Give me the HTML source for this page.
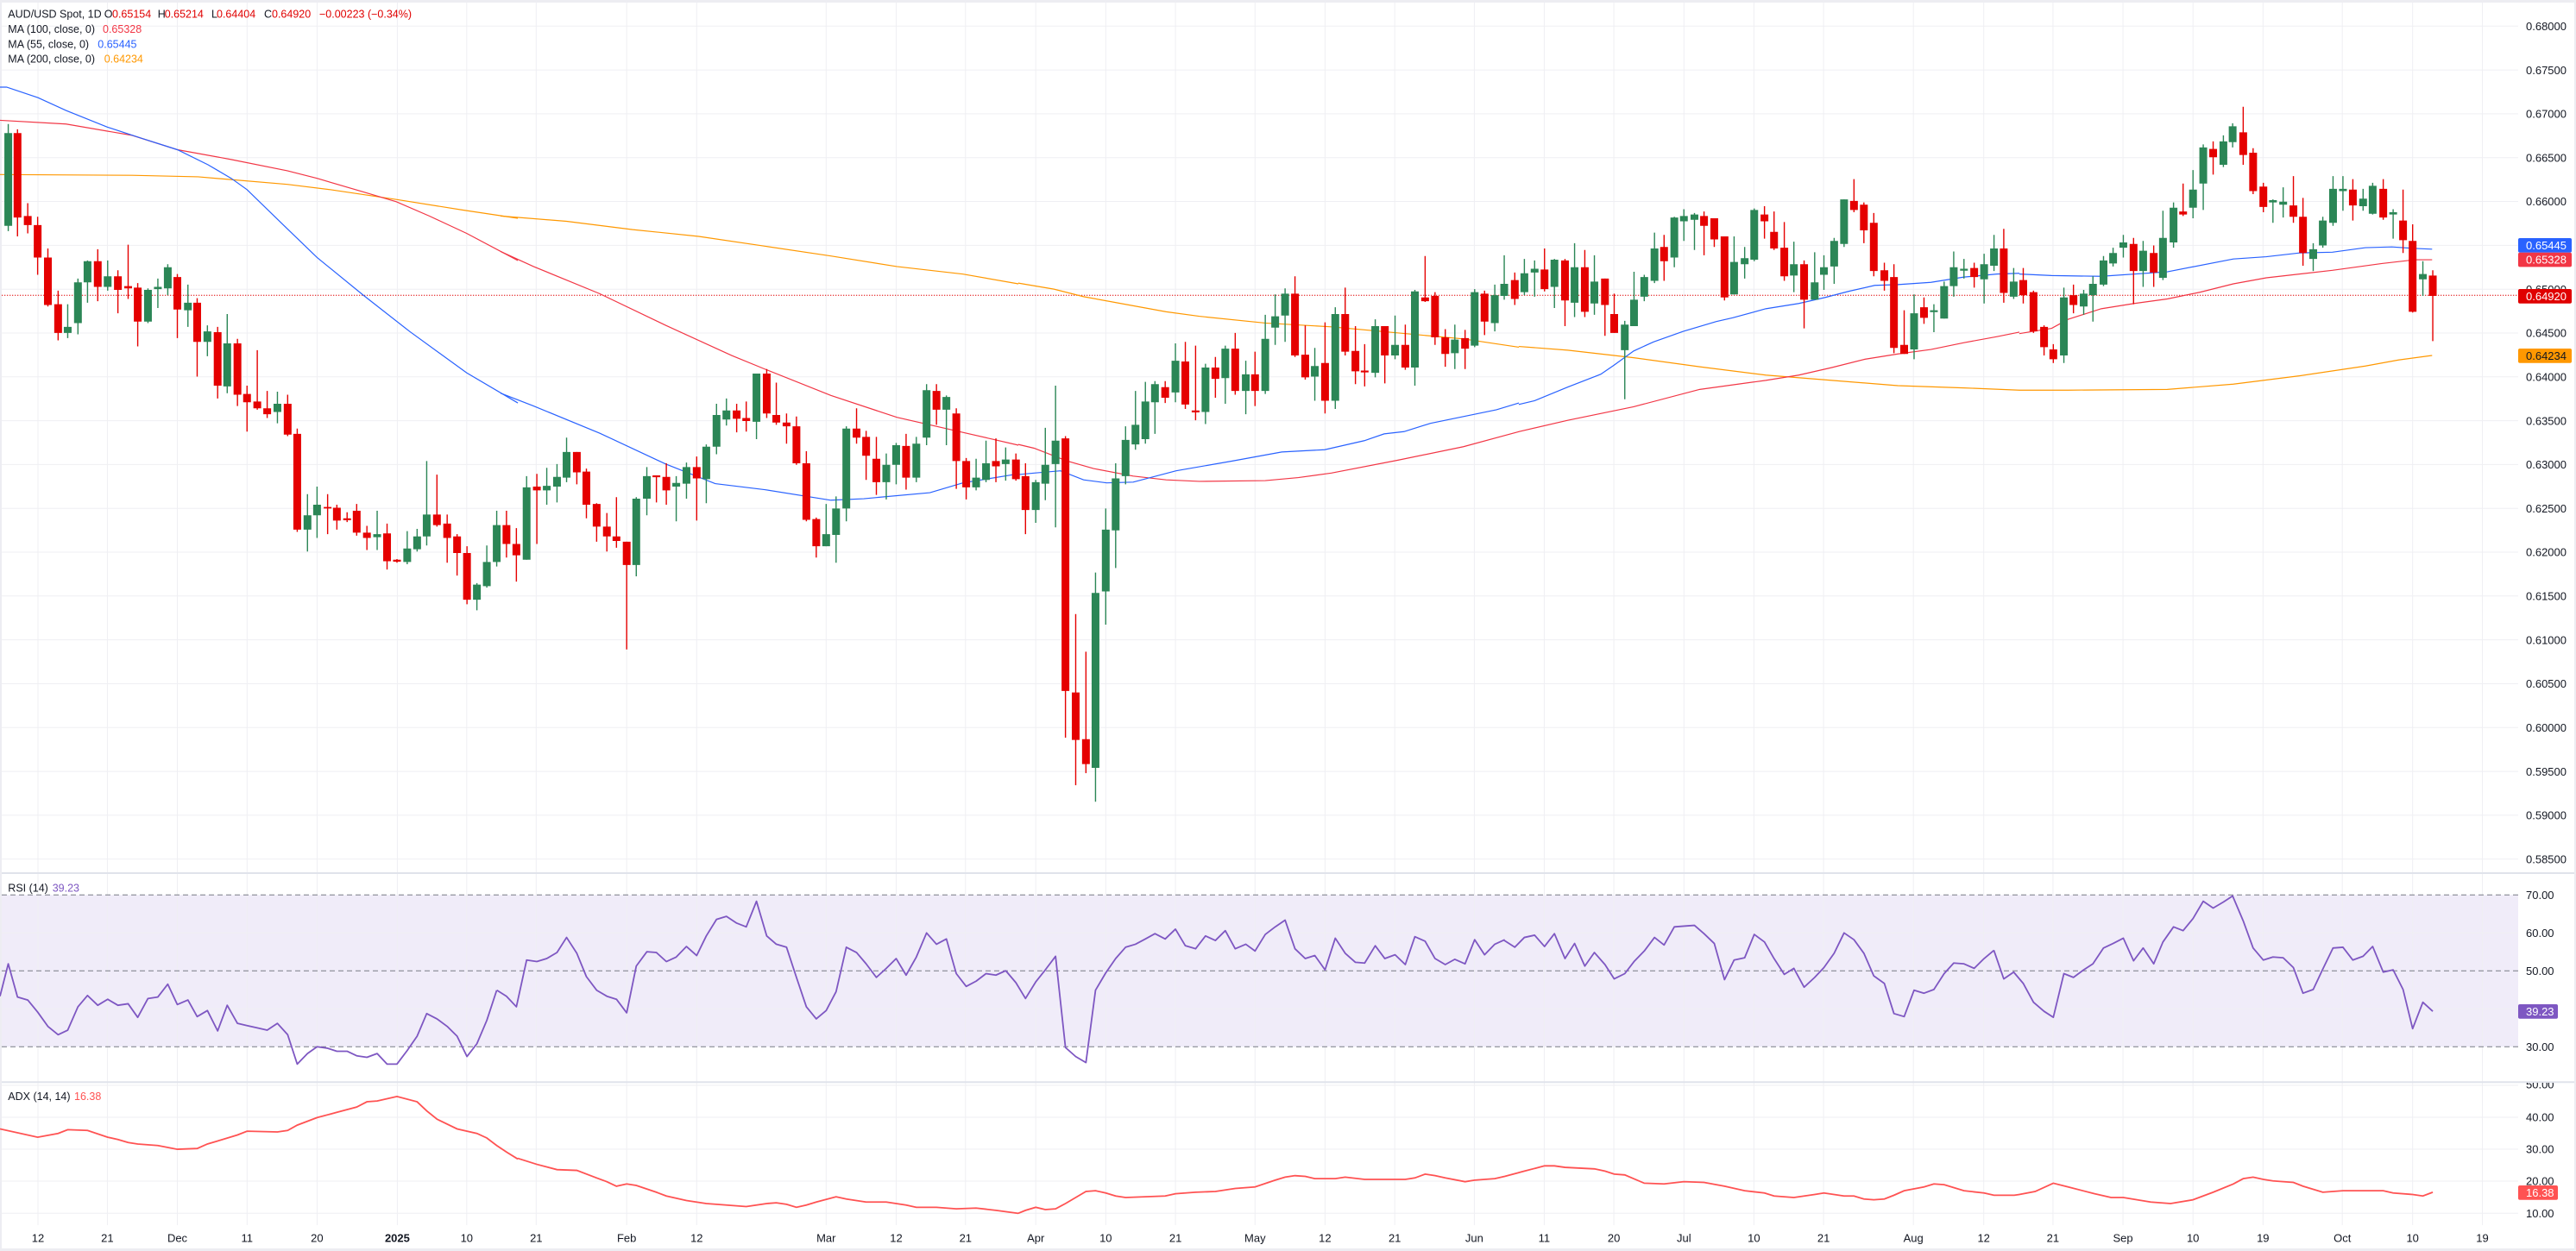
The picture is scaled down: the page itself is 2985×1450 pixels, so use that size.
<!DOCTYPE html>
<html><head><meta charset="utf-8"><style>html,body{margin:0;padding:0;background:#fff}svg{display:block}</style></head>
<body>
<svg xmlns="http://www.w3.org/2000/svg" width="2985" height="1450" viewBox="0 0 2985 1450" font-family="'Liberation Sans', sans-serif">
<defs><clipPath id="adxc"><rect x="2900" y="1255" width="85" height="200"/></clipPath></defs>
<rect width="2985" height="1450" fill="#ededf2"/>
<rect x="2" y="3" width="2981" height="1444" fill="#fff"/>
<!-- RSI band -->
<rect x="2" y="1037.3" width="2916" height="176" fill="#f0ecf9"/>
<!-- horizontal grid main -->
<g stroke="#efeff3" stroke-width="1">
<path d="M2 30.3H2918M2 81.1H2918M2 131.9H2918M2 182.7H2918M2 233.5H2918M2 284.4H2918M2 335.2H2918M2 386H2918M2 436.8H2918M2 487.6H2918M2 538.4H2918M2 589.2H2918M2 640H2918M2 690.8H2918M2 741.6H2918M2 792.5H2918M2 843.3H2918M2 894.1H2918M2 944.9H2918M2 995.7H2918"/>
<path d="M2 1081.3H2918M2 1169.3H2918M2 1258H2918M2 1295H2918M2 1332H2918M2 1369H2918M2 1406.3H2918"/>
<path d="M44 3V1420M124.4 3V1420M205.5 3V1420M286.3 3V1420M367.4 3V1420M460.4 3V1420M540.8 3V1420M621.3 3V1420M726.2 3V1420M807.3 3V1420M957.3 3V1420M1038.5 3V1420M1118.8 3V1420M1200.2 3V1420M1281.3 3V1420M1362.1 3V1420M1454.3 3V1420M1535.4 3V1420M1616.2 3V1420M1708.4 3V1420M1789.4 3V1420M1870.1 3V1420M1951.3 3V1420M2032.4 3V1420M2113.1 3V1420M2217.2 3V1420M2298.7 3V1420M2378.9 3V1420M2460.1 3V1420M2541.2 3V1420M2622.3 3V1420M2714.2 3V1420M2795.7 3V1420M2876.5 3V1420"/>
</g>
<!-- RSI dashed -->
<path d="M2 1037.3H2918M2 1125.3H2918M2 1213.3H2918" stroke="#787b86" stroke-width="1" stroke-dasharray="6 4" fill="none"/>
<!-- panel separators -->
<path d="M2 1012H2983M2 1254.3H2983" stroke="#e0e3eb" stroke-width="2"/>
<!-- price line -->
<path d="M2 342.2H2918" stroke="#e00000" stroke-width="1" stroke-dasharray="1.3 1.7"/>

<!-- SEGMENT 1 -->
<g transform="translate(0,80) scale(0.3827,0.87375)" fill="none">
<polyline vector-effect="non-scaling-stroke" stroke="#ff9800" stroke-width="1.2" points="0,140 400,141 600,143 870,153 1000,160 1200,173 1400,187 1568,198"/>
<polyline vector-effect="non-scaling-stroke" stroke="#f23645" stroke-width="1.2" points="0,68 200,73 400,88 537,107 700,120 870,135 960,145 1100,163 1200,176 1300,195 1413,218 1568,254"/>
<polyline vector-effect="non-scaling-stroke" stroke="#2962ff" stroke-width="1.2" points="0,24 20,24 115,38 200,55 325,77 430,92 537,107 630,127 700,145 748,160 870,212 960,250 1100,300 1240,348 1413,403 1568,443"/>
<path vector-effect="non-scaling-stroke" stroke="#2b8656" stroke-width="1.4" d="M25 73V215M205 312V357M236 278V352M265 254V310M326 254V294M448 291V337M478 278V317M508 259V300M569 286V342M628 340V381M688 325V430M840 428V470M931 564V640M960 554V622M1142 586V638M1233 613V657M1263 610V640M1292 520V632M1444 682V718M1474 632V688M1504 586V660"/>
<path vector-effect="non-scaling-stroke" stroke="#2b8656" stroke-width="9" d="M25 85V208M205 342V350M236 283V337M265 255V283M326 275V289M448 293V335M478 289V292M508 263V291M569 310V320M628 348V362M688 364V421M840 444V455M931 592V611M960 578V592M1142 617V621M1233 636V654M1263 620V637M1292 591V620M1444 684V704M1474 654V686M1504 605V654"/>
<path vector-effect="non-scaling-stroke" stroke="#e50000" stroke-width="1.4" d="M53 80V222M84 178V218M114 196V273M145 238V315M176 294V360M296 239V308M357 267V324M388 233V305M417 284V368M537 272V357M597 304V408M659 342V437M719 358V447M748 420V481M779 373V452M809 427V463M871 432V487M900 477V614M992 564V617M1020 578V611M1051 588V601M1080 577V619M1111 606V638M1172 603V664M1202 650V655M1323 538V607M1354 591V655M1384 617V672M1414 633V710"/>
<path vector-effect="non-scaling-stroke" stroke="#e50000" stroke-width="9" d="M53 85V197M84 195V207M114 207V250M145 250V313M176 312V350M296 255V289M357 275V293M388 288V291M417 290V335M537 276V319M597 310V362M659 349V420M719 364V432M748 431V442M779 441V450M809 450V458M871 444V485M900 484V611M992 581V583M1020 582V599M1051 596V598.5M1080 586V615M1111 615V622M1172 616V653M1202 651V653.5M1323 591V605M1354 603V622M1384 620V642M1414 642V704"/>
<polyline vector-effect="non-scaling-stroke" stroke="#7e57c2" stroke-width="1.8" stroke-linejoin="round" points="0,1230 25,1187 53,1231 84,1235 114,1251 145,1270 176,1281 205,1275 236,1244 265,1229 296,1242 326,1234 357,1242 388,1240 417,1258 448,1233 478,1231 508,1214 537,1241 569,1235 597,1257 628,1249 659,1276 688,1242 719,1266 748,1269 779,1272 809,1275 840,1266 871,1281 900,1320 931,1306 960,1297 992,1299 1020,1303 1051,1303 1080,1309 1111,1311 1142,1306 1172,1320 1202,1320 1233,1302 1263,1283 1292,1253 1323,1260 1354,1270 1384,1283 1414,1310 1444,1293 1474,1262 1504,1222"/>
<polyline vector-effect="non-scaling-stroke" stroke="#ff5252" stroke-width="1.8" points="0,1406 114,1417 176,1412 205,1407 265,1408 326,1417 357,1420 388,1424 417,1426 478,1428 537,1433 597,1432 628,1426 659,1422 719,1414 748,1409 840,1410 871,1408 900,1401 960,1391 1020,1384 1080,1377 1111,1370 1142,1369 1202,1363 1263,1370 1292,1382 1323,1393 1384,1406 1444,1412 1474,1418 1504,1428 1535,1437 1568,1446"/>
</g>

<!-- SEGMENT 2 -->
<g transform="translate(580,80) scale(0.3827,0.87375)" fill="none">
<polyline vector-effect="non-scaling-stroke" stroke="#ff9800" stroke-width="1.2" points="0,195 200,202 400,213 600,222 800,235 1000,248 1200,262 1400,272 1568,285"/>
<polyline vector-effect="non-scaling-stroke" stroke="#f23645" stroke-width="1.2" points="0,242 100,262 300,298 500,340 700,380 800,398 1000,433 1200,462 1400,482 1568,499"/>
<polyline vector-effect="non-scaling-stroke" stroke="#2962ff" stroke-width="1.2" points="0,430 100,447 300,483 500,524 650,550 800,558 1000,572 1100,570 1300,562 1400,549 1568,537"/>
<path vector-effect="non-scaling-stroke" stroke="#2b8656" stroke-width="1.4" d="M79 540V651M140 529V578M171 524V575M200 489V548M411 568V673M443 528V592M532 540V600M563 522V570M623 498V576M654 444V511M684 437V473M775 404V491M986 577V633M1016 567V655M1047 474V600M1168 510V571M1198 496V551M1259 488V548M1290 418V499M1350 433V499M1440 517V559M1470 493V548"/>
<path vector-effect="non-scaling-stroke" stroke="#2b8656" stroke-width="9" d="M79 555V651M140 553V559M171 541V554M200 508V542M411 570V658M443 540V570M532 549V554M563 528V550M623 501V544M654 459V501M684 453V465M775 404V468M986 617V633M1016 583V618M1047 477V583M1168 525V548M1198 499V525M1259 497V542M1290 426V489M1350 435V452M1440 542V555M1470 523V545"/>
<path vector-effect="non-scaling-stroke" stroke="#e50000" stroke-width="1.4" d="M18 586V648M48 609V680M110 537V630M231 508V551M260 530V596M291 576V627M322 589V640M351 568V635M382 627V770M472 539V575M502 523V578M594 514V599M715 444V482M744 441V481M806 398V463M835 416V472M866 457V497M896 461V525M926 507V600M956 595V648M1078 450V497M1107 480V545M1138 488V565M1228 484V558M1320 418V472M1380 450V557M1410 516V571M1500 490V548"/>
<path vector-effect="non-scaling-stroke" stroke="#e50000" stroke-width="9" d="M18 605V630M48 630V645M110 554V559M231 508V535M260 534V578M291 577V607M322 607V620M351 620V626M382 627V658M472 539V541.5M502 541V559M594 528V543M715 453V464M744 463V467M806 404V457M835 459V469M866 469V474M896 474V523M926 523V598M956 597V633M1078 477V489M1107 488V513M1138 517V548M1228 500V542M1320 427V452M1380 457V520M1410 520V555M1500 520V527"/>
<polyline vector-effect="non-scaling-stroke" stroke="#7e57c2" stroke-width="1.8" stroke-linejoin="round" points="-11,1222 18,1230 48,1244 79,1182 110,1184 140,1180 171,1172 200,1152 231,1173 260,1204 291,1222 322,1230 351,1234 382,1252 411,1190 443,1171 472,1172 502,1184 532,1178 563,1164 594,1176 623,1150 654,1128 684,1124 715,1133 744,1138 775,1104 806,1150 835,1161 866,1165 896,1205 926,1244 956,1260 986,1249 1016,1224 1047,1165 1078,1172 1107,1187 1138,1205 1168,1193 1198,1180 1228,1202 1259,1178 1290,1146 1320,1161 1350,1154 1380,1200 1410,1217 1440,1210 1470,1200 1500,1202 1530,1196"/>
<polyline vector-effect="non-scaling-stroke" stroke="#ff5252" stroke-width="1.8" points="52,1445 110,1453 171,1460 231,1461 291,1471 322,1476 351,1482 382,1479 411,1481 472,1490 502,1495 563,1501 623,1505 684,1507 744,1509 806,1505 835,1504 866,1506 896,1510 926,1507 956,1503 1016,1496 1047,1499 1107,1503 1168,1503 1228,1507 1259,1510 1320,1510 1380,1512 1440,1511 1500,1514 1568,1518"/>
</g>

<!-- SEGMENT 3 -->
<g transform="translate(1160,80) scale(0.3827,0.87375)" fill="none">
<polyline vector-effect="non-scaling-stroke" stroke="#ff9800" stroke-width="1.2" points="52,284 160,292 250,302 400,314 500,322 600,328 800,337 1000,342 1200,350 1400,358 1568,369"/>
<polyline vector-effect="non-scaling-stroke" stroke="#f23645" stroke-width="1.2" points="52,498 100,503 200,520 280,530 400,540 500,545 600,547 800,546 900,542 1000,536 1200,519 1400,501 1568,481"/>
<polyline vector-effect="non-scaling-stroke" stroke="#2962ff" stroke-width="1.2" points="52,538 100,536 180,533 250,545 320,549 400,548 530,533 700,520 850,508 980,505 1100,493 1160,484 1220,481 1300,470 1400,461 1500,452 1568,443"/>
<path vector-effect="non-scaling-stroke" stroke="#2b8656" stroke-width="1.4" d="M14 502V546M105 545V602M134 476V572M165 420V608M286 668V972M317 583V737M347 523V662M377 474V551M407 427V505M437 415V497M466 414V484M528 364V442M619 391V471M679 367V444M741 387V458M800 326V431M830 299V366M860 291V362M950 370V440M1012 316V451M1133 332V409M1193 327V385M1253 293V420M1374 339V398M1434 292V369M1495 286V348"/>
<path vector-effect="non-scaling-stroke" stroke="#2b8656" stroke-width="9" d="M14 518V524M105 548V585M134 525V550M165 493V524M286 695V927M317 611V693M347 543V612M377 492V540M407 472V498M437 441V491M466 418V442M528 387V429M619 396V455M679 371V410M741 405V427M800 358V427M830 328V343M860 298V327M950 394V408M1012 325V440M1133 341V403M1193 366V380M1253 295V396M1374 359V377M1434 296V367M1495 300V337"/>
<path vector-effect="non-scaling-stroke" stroke="#e50000" stroke-width="1.4" d="M45 510V546M74 523V617M195 487V887M226 723V950M257 773V934M497 414V443M558 362V451M589 367V466M649 382V436M709 350V432M769 375V447M890 275V382M921 340V412M981 336V457M1042 290V380M1073 341V418M1101 365V421M1162 341V417M1224 339V399M1284 248V309M1314 296V366M1345 345V395M1405 346V398M1464 294V353"/>
<path vector-effect="non-scaling-stroke" stroke="#e50000" stroke-width="9" d="M45 518V544M74 540V585M195 490V825M226 827V890M257 889V922M497 422V436M558 388V445M589 453V455.5M649 396V411M709 371V427M769 405V427M890 298V380M921 379V409M981 390V440M1042 325V375M1073 374V401M1101 400V402.5M1162 341V380M1224 366V396M1284 303V308M1314 301V356M1345 356V378M1405 357V371M1464 298V335"/>
<polyline vector-effect="non-scaling-stroke" stroke="#7e57c2" stroke-width="1.8" stroke-linejoin="round" points="14,1196 45,1212 74,1233 105,1211 134,1195 165,1177 195,1298 226,1310 257,1318 286,1222 317,1199 347,1180 377,1165 407,1161 437,1154 466,1147 497,1154 528,1141 558,1163 589,1167 619,1150 649,1156 679,1143 709,1167 741,1161 769,1170 800,1148 830,1138 860,1129 890,1167 921,1180 950,1176 981,1195 1012,1153 1042,1173 1073,1185 1101,1186 1133,1163 1162,1180 1193,1175 1224,1188 1253,1151 1284,1157 1314,1180 1345,1188 1374,1181 1405,1187 1434,1155 1464,1175 1495,1161 1525,1155"/>
<polyline vector-effect="non-scaling-stroke" stroke="#ff5252" stroke-width="1.8" points="52,1518 74,1514 105,1510 134,1513 165,1512 195,1505 226,1497 257,1489 286,1488 317,1491 347,1495 377,1497 437,1496 497,1495 528,1492 589,1490 649,1489 709,1485 769,1483 830,1474 860,1470 890,1468 921,1469 950,1472 1012,1472 1042,1470 1101,1473 1193,1473 1224,1473 1253,1471 1284,1466 1314,1468 1345,1471 1405,1476 1434,1474 1495,1472 1525,1469 1568,1464"/>
</g>

<!-- SEGMENT 4 -->
<g transform="translate(1740,80) scale(0.3827,0.87375)" fill="none">
<polyline vector-effect="non-scaling-stroke" stroke="#ff9800" stroke-width="1.2" points="52,368 200,373 400,383 600,395 800,406 1000,413 1200,420 1400,423 1568,426"/>
<polyline vector-effect="non-scaling-stroke" stroke="#f23645" stroke-width="1.2" points="52,481 200,466 400,448 600,425 800,413 900,406 1000,396 1100,385 1200,378 1300,372 1400,363 1500,355 1568,349"/>
<polyline vector-effect="non-scaling-stroke" stroke="#2962ff" stroke-width="1.2" points="52,445 100,440 200,422 300,405 340,393 400,374 460,362 550,348 650,335 700,330 800,318 900,311 980,303 1050,295 1130,287 1200,286 1300,283 1400,276 1500,272 1568,271"/>
<path vector-effect="non-scaling-stroke" stroke="#2b8656" stroke-width="1.4" d="M8 247V306M69 252V300M100 254V302M160 252V317M221 231V329M281 247V326M373 334V438M401 269V341M432 273V308M463 217V284M523 196V263M552 186V228M584 191V240M704 222V299M736 236V278M765 185V255M885 229V296M948 243V306M976 247V293M1007 224V285M1037 173V236M1249 299V385M1309 312V349M1340 282V331M1369 242V302M1400 252V278M1461 245V311M1491 220V268"/>
<path vector-effect="non-scaling-stroke" stroke="#2b8656" stroke-width="9" d="M8 285V301M69 271V296M100 265V270M160 253V289M221 263V310M281 282V311M373 339V373M401 306V341M432 276V302M463 238V281M523 197V250M552 195V202M584 193V200M704 256V299M736 251V259M765 187V253M885 259V274M948 283V306M976 263V273M1007 228V262M1037 173V232M1249 324V372M1309 320V322.5M1340 288V331M1369 263V288M1400 265V267.5M1461 259V279M1491 238V261"/>
<path vector-effect="non-scaling-stroke" stroke="#e50000" stroke-width="1.4" d="M40 270V313M130 238V295M192 252V341M252 240V329M313 278V354M341 298V350M492 220V281M613 189V247M644 198V236M675 222V307M796 182V225M825 189V240M856 203V281M916 254V344M1067 146V190M1097 177V231M1127 191V275M1159 257V294M1188 259V377M1219 320V378M1279 303V338M1431 257V290"/>
<path vector-effect="non-scaling-stroke" stroke="#e50000" stroke-width="9" d="M40 280V305M130 266V292M192 254V307M252 263V322M313 278V313M341 325V350M492 236V255M613 195V208M644 198V226M675 222V303M796 193V202M825 216V238M856 237V275M916 259V306M1067 175V187M1097 180V214M1127 204V268M1159 267V281M1188 276V370M1219 366V378M1279 316V330M1431 264V276"/>
<polyline vector-effect="non-scaling-stroke" stroke="#7e57c2" stroke-width="1.8" stroke-linejoin="round" points="8,1156 40,1165 69,1152 100,1149 130,1164 160,1147 192,1180 221,1160 252,1190 281,1172 313,1188 341,1207 373,1200 401,1184 432,1170 463,1152 492,1162 523,1138 552,1137 584,1136 613,1147 644,1160 675,1208 704,1182 736,1179 765,1148 796,1158 825,1180 856,1201 885,1193 916,1218 948,1205 976,1192 1007,1173 1037,1146 1067,1155 1097,1173 1127,1203 1159,1213 1188,1253 1219,1257 1249,1222 1279,1226 1309,1221 1340,1200 1369,1186 1400,1187 1431,1193 1461,1180 1491,1169"/>
<polyline vector-effect="non-scaling-stroke" stroke="#ff5252" stroke-width="1.8" points="52,1464 69,1462 130,1455 160,1455 192,1457 281,1459 313,1462 341,1466 373,1467 432,1478 492,1479 552,1476 613,1477 675,1482 736,1488 796,1491 825,1495 885,1497 948,1493 976,1491 1037,1495 1067,1495 1097,1499 1127,1500 1159,1499 1188,1494 1219,1488 1279,1483 1309,1479 1340,1480 1400,1488 1461,1491 1491,1494 1552,1494 1568,1493"/>
</g>

<!-- SEGMENT 5 -->
<g transform="translate(2320,80) scale(0.3827,0.87375)" fill="none">
<polyline vector-effect="non-scaling-stroke" stroke="#ff9800" stroke-width="1.2" points="52,426 200,426 500,425 700,418 900,407 1100,394 1200,386 1302,380"/>
<polyline vector-effect="non-scaling-stroke" stroke="#f23645" stroke-width="1.2" points="52,351 150,344 200,332 300,318 400,311 500,305 600,296 700,285 800,277 1000,267 1150,258 1250,253 1302,253"/>
<polyline vector-effect="non-scaling-stroke" stroke="#2962ff" stroke-width="1.2" points="52,272 150,274 300,275 500,269 700,252 800,249 900,244 1000,243 1100,237 1180,236 1250,238 1302,239"/>
<path vector-effect="non-scaling-stroke" stroke="#2b8656" stroke-width="1.4" d="M35 264V305M187 290V390M247 293V326M275 275V335M307 248V288M336 237V262M367 220V250M427 228V289M487 188V280M519 177V237M578 134V198M609 100V187M670 88V130M698 72V104M820 173V204M851 157V197M942 231V268M971 196V237M1002 142V208M1032 142V188M1093 159V188M1122 151V193M1184 186V225M1274 255V301"/>
<path vector-effect="non-scaling-stroke" stroke="#2b8656" stroke-width="9" d="M35 282V302M187 303V380M247 298V315M275 285V300M307 254V286M336 244V258M367 230V237M427 241V268M487 224V277M519 184V230M578 160V184M609 104V152M670 96V127M698 76V97M820 174V177M851 176V180M942 239V252M971 201V234M1002 159V204M1032 159V162M1093 172V182M1122 155V192M1184 190V193M1274 272V279"/>
<path vector-effect="non-scaling-stroke" stroke="#e50000" stroke-width="1.4" d="M5 212V310M64 264V311M95 294V350M127 340V380M155 365V390M216 286V324M398 224V312M459 234V289M548 152V195M639 96V140M730 50V127M760 105V166M791 151V190M882 142V204M911 171V261M1062 146V201M1154 146V200M1214 160V244M1243 206V323M1304 267V361"/>
<path vector-effect="non-scaling-stroke" stroke="#e50000" stroke-width="9" d="M5 238V297M64 280V300M95 296V348M127 342V369M155 372V385M216 300V313M398 232V268M459 244V270M548 189V193M639 106V117M730 84V114M760 111V162M791 156V183M882 181V196M911 196V244M1062 160V181M1154 159V197M1214 201V227M1243 228V322M1304 274V301"/>
<polyline vector-effect="non-scaling-stroke" stroke="#7e57c2" stroke-width="1.8" stroke-linejoin="round" points="-25,1169 5,1207 35,1198 64,1213 95,1238 127,1250 155,1258 187,1200 216,1205 247,1195 275,1187 307,1166 336,1160 367,1153 398,1183 427,1166 459,1187 487,1158 519,1138 548,1143 578,1127 609,1104 639,1113 670,1105 698,1097 730,1130 760,1166 791,1182 820,1178 851,1179 882,1192 911,1226 942,1221 971,1194 1002,1166 1032,1165 1062,1182 1093,1177 1122,1164 1154,1198 1184,1195 1214,1221 1243,1273 1274,1238 1304,1250"/>
<polyline vector-effect="non-scaling-stroke" stroke="#ff5252" stroke-width="1.8" points="52,1493 100,1489 155,1478 200,1483 280,1492 330,1497 367,1497 450,1503 510,1505 578,1500 639,1490 700,1479 730,1472 760,1470 791,1473 820,1475 882,1477 911,1482 971,1490 1032,1488 1093,1488 1154,1488 1184,1491 1243,1493 1274,1495 1304,1490"/>
</g>

<!-- Legend -->
<g font-size="12.5" fill="#131722">
<text x="9.3" y="20.5">AUD/USD Spot, 1D</text>
<text x="120.7" y="20.5">O</text><text x="130" y="20.5" fill="#e00000">0.65154</text>
<text x="182.7" y="20.5">H</text><text x="190.7" y="20.5" fill="#e00000">0.65214</text>
<text x="245" y="20.5">L</text><text x="251" y="20.5" fill="#e00000">0.64404</text>
<text x="306" y="20.5">C</text><text x="315" y="20.5" fill="#e00000">0.64920</text>
<text x="370" y="20.5" fill="#e00000">−0.00223 (−0.34%)</text>
<text x="9.3" y="38">MA (100, close, 0)</text><text x="119" y="38" fill="#f23645">0.65328</text>
<text x="9.3" y="55.3">MA (55, close, 0)</text><text x="113.3" y="55.3" fill="#2962ff">0.65445</text>
<text x="9.3" y="72.3">MA (200, close, 0)</text><text x="120.7" y="72.3" fill="#ff9800">0.64234</text>
<text x="9.3" y="1033.5">RSI (14)</text><text x="60.7" y="1033.5" fill="#7e57c2">39.23</text>
<text x="9.3" y="1275.2">ADX (14, 14)</text><text x="86" y="1275.2" fill="#ff5252">16.38</text>
</g>

<!-- Price axis labels -->
<g font-size="13" fill="#131722">
<text x="2927" y="35">0.68000</text>
<text x="2927" y="85.8">0.67500</text>
<text x="2927" y="136.6">0.67000</text>
<text x="2927" y="187.4">0.66500</text>
<text x="2927" y="238.2">0.66000</text>
<text x="2927" y="289.1">0.65500</text>
<text x="2927" y="339.9">0.65000</text>
<text x="2927" y="390.7">0.64500</text>
<text x="2927" y="441.5">0.64000</text>
<text x="2927" y="492.3">0.63500</text>
<text x="2927" y="543.1">0.63000</text>
<text x="2927" y="593.9">0.62500</text>
<text x="2927" y="644.7">0.62000</text>
<text x="2927" y="695.5">0.61500</text>
<text x="2927" y="746.3">0.61000</text>
<text x="2927" y="797.2">0.60500</text>
<text x="2927" y="848">0.60000</text>
<text x="2927" y="898.8">0.59500</text>
<text x="2927" y="949.6">0.59000</text>
<text x="2927" y="1000.4">0.58500</text>
<text x="2927" y="1042">70.00</text>
<text x="2927" y="1086">60.00</text>
<text x="2927" y="1130">50.00</text>
<text x="2927" y="1174">40.00</text>
<text x="2927" y="1218">30.00</text>
<text x="2927" y="1261.4" clip-path="url(#adxc)">50.00</text>
<text x="2927" y="1299.7">40.00</text>
<text x="2927" y="1336.7">30.00</text>
<text x="2927" y="1373.7">20.00</text>
<text x="2927" y="1411">10.00</text>
</g>

<!-- Value boxes -->
<g font-size="13">
<rect x="2918" y="276" width="62" height="16.7" rx="2" fill="#2962ff"/><text x="2927" y="289" fill="#fff">0.65445</text>
<rect x="2918" y="292.7" width="62" height="16.7" rx="2" fill="#f23645"/><text x="2927" y="305.7" fill="#fff">0.65328</text>
<rect x="2918" y="335" width="62" height="16.7" rx="2" fill="#e00000"/><text x="2927" y="348" fill="#fff">0.64920</text>
<rect x="2918" y="404" width="62" height="16.7" rx="2" fill="#ff9800"/><text x="2927" y="417" fill="#131722">0.64234</text>
<rect x="2918" y="1164" width="46" height="16.7" rx="2" fill="#7e57c2"/><text x="2927" y="1177" fill="#fff">39.23</text>
<rect x="2918" y="1374" width="46" height="16.7" rx="2" fill="#ff5252"/><text x="2927" y="1387" fill="#fff">16.38</text>
</g>

<!-- X axis labels -->
<g font-size="13" fill="#131722" text-anchor="middle">
<text x="44" y="1439.5">12</text>
<text x="124.4" y="1439.5">21</text>
<text x="205.5" y="1439.5">Dec</text>
<text x="286.3" y="1439.5">11</text>
<text x="367.4" y="1439.5">20</text>
<text x="460.4" y="1439.5" font-weight="bold">2025</text>
<text x="540.8" y="1439.5">10</text>
<text x="621.3" y="1439.5">21</text>
<text x="726.2" y="1439.5">Feb</text>
<text x="807.3" y="1439.5">12</text>
<text x="957.3" y="1439.5">Mar</text>
<text x="1038.5" y="1439.5">12</text>
<text x="1118.8" y="1439.5">21</text>
<text x="1200.2" y="1439.5">Apr</text>
<text x="1281.3" y="1439.5">10</text>
<text x="1362.1" y="1439.5">21</text>
<text x="1454.3" y="1439.5">May</text>
<text x="1535.4" y="1439.5">12</text>
<text x="1616.2" y="1439.5">21</text>
<text x="1708.4" y="1439.5">Jun</text>
<text x="1789.4" y="1439.5">11</text>
<text x="1870.1" y="1439.5">20</text>
<text x="1951.3" y="1439.5">Jul</text>
<text x="2032.4" y="1439.5">10</text>
<text x="2113.1" y="1439.5">21</text>
<text x="2217.2" y="1439.5">Aug</text>
<text x="2298.7" y="1439.5">12</text>
<text x="2378.9" y="1439.5">21</text>
<text x="2460.1" y="1439.5">Sep</text>
<text x="2541.2" y="1439.5">10</text>
<text x="2622.3" y="1439.5">19</text>
<text x="2714.2" y="1439.5">Oct</text>
<text x="2795.7" y="1439.5">10</text>
<text x="2876.5" y="1439.5">19</text>
</g>
</svg>
</body></html>
